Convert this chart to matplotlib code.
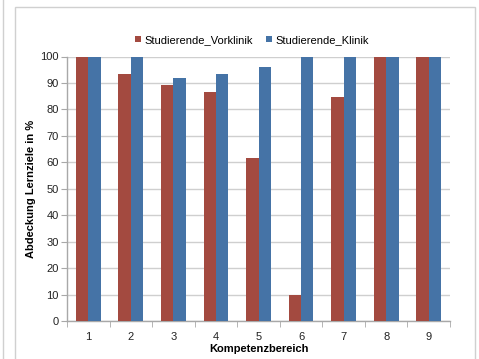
import matplotlib
matplotlib.use("Agg")
import matplotlib.pyplot as plt
from matplotlib.patches import Rectangle
from matplotlib.lines import Line2D
import numpy as np

plt.rcParams['font.family'] = ['Liberation Sans', 'DejaVu Sans']

categories = ["1", "2", "3", "4", "5", "6", "7", "8", "9"]
vorklinik = [100, 93.4, 89.3, 86.6, 61.5, 10, 84.7, 100, 100]
klinik = [100, 100, 91.9, 93.4, 96.0, 100, 100, 100, 100]
series_names = ["Studierende_Vorklinik", "Studierende_Klinik"]
colors = ["#A34A40", "#4573A6"]

W, H = 479, 359
fig = plt.figure(figsize=(W / 100, H / 100), dpi=100)

# outer chart frame and neighbouring panel edge
fig.add_artist(Rectangle((14.5 / W, -0.05), (474.5 - 14.5) / W, 1.05 - 7.5 / H,
                         transform=fig.transFigure, fill=False,
                         edgecolor="#D0D0D0", linewidth=1.0))
fig.add_artist(Line2D([2.5 / W, 2.5 / W], [0, 1], transform=fig.transFigure,
                      color="#D0D0D0", linewidth=1.0))

ax = fig.add_axes([67 / W, 1 - 321 / H, (450 - 67) / W, (321 - 56.5) / H])

x = np.arange(1, len(categories) + 1)
bw = 0.29
ax.bar(x - bw / 2, vorklinik, width=bw, color=colors[0], label=series_names[0], zorder=3)
ax.bar(x + bw / 2, klinik, width=bw, color=colors[1], label=series_names[1], zorder=3)

ax.set_xlim(0.5, len(categories) + 0.5)
ax.set_ylim(0, 100)
ax.set_yticks(np.arange(0, 101, 10))
ax.set_xticks(x)
ax.set_xticklabels(categories)
ax.set_xticks(np.arange(0.5, len(categories) + 1, 1), minor=True)

ax.grid(axis="y", color="#CFCFCF", linewidth=1.0, zorder=0)
for s in ["top", "right"]:
    ax.spines[s].set_visible(False)
for s in ["left", "bottom"]:
    ax.spines[s].set_color("#A8A8A8")
    ax.spines[s].set_linewidth(1.0)

fs = 8
ax.tick_params(axis="y", length=4, color="#A8A8A8", labelsize=fs, pad=2, labelcolor="#222222")
ax.tick_params(axis="x", which="major", length=0, labelsize=fs, pad=8, labelcolor="#222222")
ax.tick_params(axis="x", which="minor", length=4, color="#A8A8A8")

ax.set_ylabel("Abdeckung Lernziele in %", fontsize=fs, fontweight="bold", labelpad=3)
ax.set_xlabel("Kompetenzbereich", fontsize=fs, fontweight="bold", labelpad=1)

handles, labels = ax.get_legend_handles_labels()
fig.legend(handles, labels, loc="center", bbox_to_anchor=(252 / W, 1 - 40 / H),
           ncol=2, frameon=False, fontsize=fs, handlelength=0.55, handleheight=0.55,
           handletextpad=0.3, columnspacing=1.2)

fig.savefig("out.png", dpi=100)
